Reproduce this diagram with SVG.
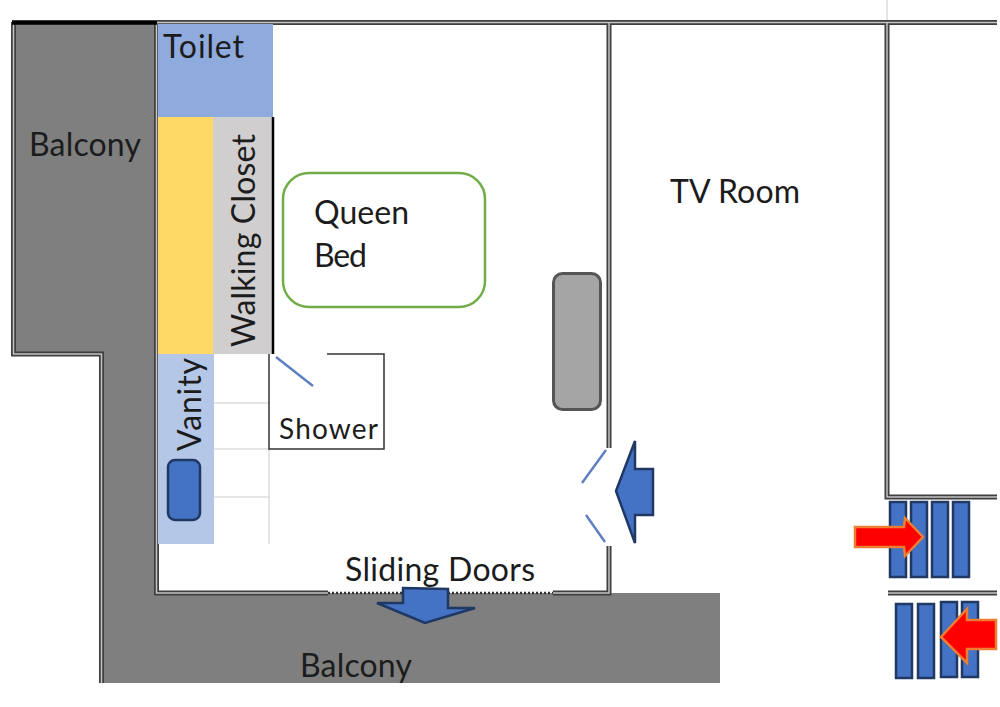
<svg xmlns="http://www.w3.org/2000/svg" width="1000" height="707" viewBox="0 0 1000 707">
<style>
text{font-family:"Lato","Carlito","Open Sans",sans-serif;fill:#1c1c1c;font-size:32px}
.w{fill:none;stroke:#3f3f3f;stroke-width:5}
.c{fill:none;stroke:#c4c4c4;stroke-width:1.5}
.f{fill:none;stroke:#dedede;stroke-width:1.5}
.b{fill:#4472c4;stroke:#1f3864;stroke-width:2.500}
.d{fill:none;stroke:#5f80c2;stroke-width:2.5}
.r{fill:#ff0000;stroke:#ed7d31;stroke-width:2.5}
</style>
<rect width="1000" height="707" fill="#fff"/>
<g id="balcony"><polygon points="12,22 157,22 157,593 720,593 720,683 101,683 101,354 12,354" fill="#7f7f7f"/></g>
<g id="walls">
<path class="f" d="M887 0V22M214 403H270M214 449H270M214 497H270M269 449V544"/>
<path class="w" d="M157 22.500H997M156.500 22V593H328M553 593H609V546M609 448V22M887 22V497H997M888 593H997M13.500 22V354H101.500V683"/>
<path class="c" d="M157 22.500H997M156.500 22V593H328M553 593H609V546M609 448V22M887 22V497H997M888 593H997M13.500 22V354H101.500V683"/>
<path d="M12 22.500H157" stroke="#000" stroke-width="4.500" fill="none"/>
<path d="M328 593H553" stroke="#333" stroke-width="2.500" stroke-dasharray="2 2" fill="none"/>
</g>
<g id="toilet-area"><rect x="158" y="24" width="115" height="93" fill="#8faadc"/></g>
<g id="yellow-area"><rect x="158" y="117" width="55" height="237" fill="#ffd966"/></g>
<g id="closet-area"><rect x="213" y="117" width="60" height="237" fill="#d0cece"/><path d="M273 117V354" stroke="#000" stroke-width="2.500" fill="none"/></g>
<g id="vanity-area"><rect x="158" y="354" width="56" height="190" fill="#b4c7e7"/></g>
<g id="shower"><path d="M327 354H384V449H269V354" fill="#fff" stroke="#333" stroke-width="1.500"/><path class="d" d="M276 357L313 386" stroke-width="2"/><text x="279" y="439" textLength="99" style="font-size:28px">Shower</text></g>
<g id="vanity-basin"><rect x="168" y="460" width="32" height="60" rx="7" class="b"/></g>
<g id="queen-bed"><rect x="283" y="173" width="202" height="134" rx="26" fill="#fff" stroke="#70ad47" stroke-width="2.500"/><text x="314" y="224" textLength="95">Queen</text><text x="314" y="267" textLength="53">Bed</text></g>
<g id="sofa"><rect x="553.500" y="273.500" width="47" height="136" rx="9" fill="#a5a5a5" stroke="#555" stroke-width="3"/></g>
<g id="labels">
<text x="163" y="58" textLength="81">Toilet</text>
<text x="29" y="156" textLength="112">Balcony</text>
<text x="670" y="203" textLength="130">TV Room</text>
<text x="300" y="677" textLength="112">Balcony</text>
<text transform="translate(255 347) rotate(-90)" textLength="213">Walking Closet</text>
<text transform="translate(201 451) rotate(-90)" textLength="93">Vanity</text>
</g>
<g id="connectors">
<path class="d" d="M606 450L582 483M586 515L605 542"/>
<polygon class="b" points="616,491 635,441 635,469 653,469 653,515 635,515 635,543"/>
<polygon class="b" points="403,588 448,589 448,608 475,608 425,623 377,603 403,603"/>
<rect class="b" x="890" y="502" width="16" height="75"/><rect class="b" x="911" y="502" width="16" height="75"/><rect class="b" x="932" y="502" width="16" height="75"/><rect class="b" x="953" y="502" width="16" height="75"/>
<rect class="b" x="896" y="604" width="16" height="74"/><rect class="b" x="918" y="604" width="16" height="74"/><rect class="b" x="941" y="602" width="16" height="75"/><rect class="b" x="962" y="602" width="16" height="75"/>
<polygon class="r" points="855,527 904,527 905,518 923,537 905,556 904,547 855,547"/>
<polygon class="r" points="941,637 967,609 967,620 996,620 996,649 967,649 967,663"/>
</g>
<text x="345" y="581" textLength="190">Sliding Doors</text>
</svg>
